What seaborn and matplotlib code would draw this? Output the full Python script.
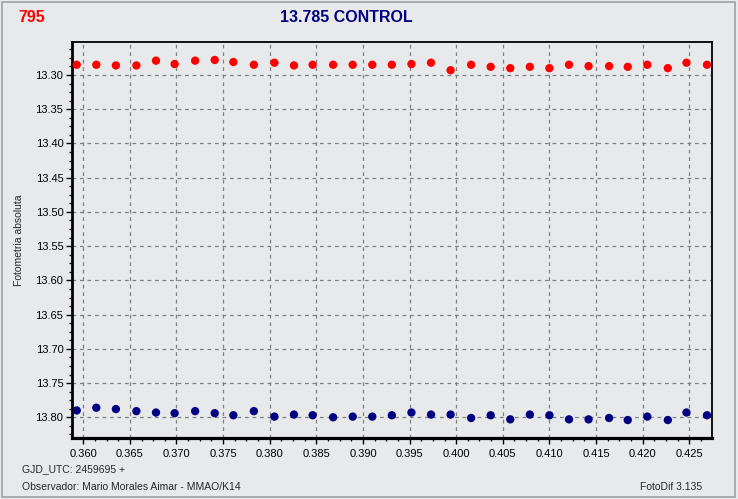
import matplotlib
matplotlib.use('Agg')
import matplotlib.pyplot as plt
from matplotlib.patches import Rectangle
from matplotlib.ticker import MultipleLocator
import seaborn as sns
import pandas as pd

# time axis (GJD_UTC - 2459695), shared by both stars
gjd = [0.3593, 0.3614, 0.3635, 0.3657, 0.3678, 0.3698, 0.3720, 0.3741,
       0.3761, 0.3783, 0.3805, 0.3826, 0.3846, 0.3868, 0.3889, 0.3910,
       0.3931, 0.3952, 0.3973, 0.3994, 0.4016, 0.4037, 0.4058, 0.4079,
       0.4100, 0.4121, 0.4142, 0.4164, 0.4184, 0.4205, 0.4227, 0.4247,
       0.4269]

mag_795 = [13.285, 13.285, 13.286, 13.286, 13.279, 13.284, 13.279, 13.278,
           13.281, 13.285, 13.282, 13.286, 13.285, 13.285, 13.285, 13.285,
           13.285, 13.284, 13.282, 13.293, 13.285, 13.288, 13.290, 13.288,
           13.290, 13.285, 13.287, 13.287, 13.288, 13.285, 13.290, 13.282,
           13.285]

mag_control = [13.790, 13.786, 13.788, 13.791, 13.793, 13.794, 13.791, 13.794,
               13.797, 13.791, 13.799, 13.796, 13.797, 13.800, 13.799, 13.799,
               13.797, 13.793, 13.796, 13.796, 13.801, 13.797, 13.803, 13.796,
               13.797, 13.803, 13.803, 13.801, 13.804, 13.799, 13.804, 13.793,
               13.797]

df = pd.DataFrame({
    'gjd': gjd * 2,
    'mag': mag_795 + mag_control,
    'star': ['795'] * len(gjd) + ['control'] * len(gjd),
})

bg = '#e8e9eb'
sns.set_style('ticks', {'axes.facecolor': bg, 'figure.facecolor': bg})
plt.rcParams['font.family'] = ['Liberation Sans', 'DejaVu Sans']

fig = plt.figure(figsize=(7.38, 4.99), dpi=100)
ax = fig.add_axes([71.7 / 738, 1 - 437.7 / 499, (712.3 - 71.7) / 738, (437.7 - 42.3) / 499])

sns.scatterplot(data=df, x='gjd', y='mag', hue='star',
                palette={'795': '#ff0000', 'control': '#000080'},
                s=36, linewidth=0, legend=False, ax=ax, zorder=3)

ax.set_xlim(0.35876, 0.42747)
ax.set_ylim(13.8298, 13.2522)

ax.xaxis.set_major_locator(MultipleLocator(0.005))
ax.xaxis.set_minor_locator(MultipleLocator(0.00125))
ax.yaxis.set_major_locator(MultipleLocator(0.05))
ax.yaxis.set_minor_locator(MultipleLocator(0.0125))
ax.xaxis.set_major_formatter(matplotlib.ticker.FormatStrFormatter('%.3f'))
ax.yaxis.set_major_formatter(matplotlib.ticker.FormatStrFormatter('%.2f'))

ax.tick_params(which='both', top=False, right=False, left=True, bottom=True)
ax.tick_params(which='major', length=4, width=1, labelsize=8, colors='black')
ax.tick_params(which='minor', length=2.5, width=1, color='black')
ax.tick_params(axis='x', which='major', pad=4)
ax.tick_params(axis='y', which='major', pad=2)

ax.grid(True, which='major', color='#808080', linestyle=(0, (3, 3)), linewidth=0.9)
ax.set_axisbelow(True)

for side, lw in [('left', 2.0), ('bottom', 2.3), ('top', 1.3), ('right', 1.3)]:
    ax.spines[side].set_visible(True)
    ax.spines[side].set_linewidth(lw)
    ax.spines[side].set_color('black')

ax.set_xlabel('')
ax.set_ylabel('Fotometria absoluta', fontsize=7.5)
ax.yaxis.set_label_coords(-0.074, 0.5)

fig.text(18 / 738, 1 - 18 / 499, '795', color='#ff0000', fontsize=11.5,
         fontweight='bold', va='center', ha='left')
fig.text(346 / 738, 1 - 18 / 499, '13.785 CONTROL', color='#000080', fontsize=11.5,
         fontweight='bold', va='center', ha='center')

fig.text(22 / 738, 1 - 469 / 499, 'GJD_UTC: 2459695 +', fontsize=7.5, va='center')
fig.text(22 / 738, 1 - 487 / 499, 'Observador: Mario Morales Aimar - MMAO/K14',
         fontsize=7.5, va='center')
fig.text(702 / 738, 1 - 487 / 499, 'FotoDif 3.135', fontsize=7.5, va='center', ha='right')

fig.patches.append(Rectangle((2 / 738, 2 / 499), 733 / 738, 495 / 499,
                             transform=fig.transFigure, fill=False,
                             edgecolor='#a0a0a0', linewidth=1.2))

fig.savefig('out.png', dpi=100, facecolor=bg)
